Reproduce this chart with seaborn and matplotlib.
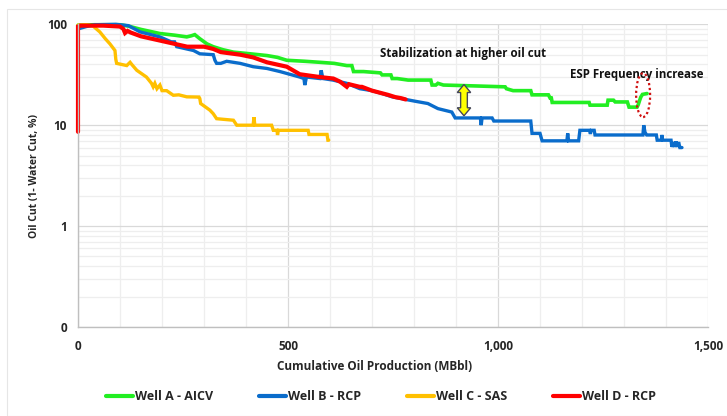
import matplotlib
matplotlib.use("Agg")
import matplotlib.pyplot as plt
import seaborn as sns
import numpy as np
from matplotlib.ticker import FixedLocator, NullFormatter
from matplotlib.patches import Polygon, Ellipse, Rectangle
from matplotlib.lines import Line2D

sns.set_style("white")
plt.rcParams['font.family'] = ['Open Sans', 'DejaVu Sans']

# ---------------- data ----------------
well_a_x = [0, 40, 100, 120, 150, 195, 230, 259, 270, 278, 290, 307, 322, 345, 370, 410, 450, 475, 497,
            540, 576, 610, 640, 652, 656, 680, 720, 724, 745, 748, 760, 786, 840, 843, 852, 857, 870, 945,
            1017, 1020, 1036, 1078, 1081, 1120, 1124, 1127, 1129, 1217, 1219, 1260, 1262, 1275, 1279, 1308,
            1312, 1331, 1334, 1337, 1340, 1344, 1355]
well_a_y = [98, 99, 99, 96, 89, 81, 78, 75, 77, 79, 72, 64, 60, 56, 53, 51, 49, 47, 44,
            43, 42, 41, 39, 39, 34, 34, 33, 31.5, 31.5, 29, 29, 28, 28, 25, 25, 26, 25, 24.5,
            24, 23, 22, 22, 20, 20, 18.6, 18.6, 16.8, 16.8, 15.8, 15.8, 17.7, 17.7, 17, 17,
            15.1, 15.1, 16, 17.5, 19, 20.2, 20.6]

well_b_x = [0, 20, 40, 90, 120, 148, 195, 222, 230, 235, 275, 290, 322, 326, 330, 340, 354, 370, 386, 417,
            450, 481, 528, 538, 540, 544, 576, 579, 583, 607, 640, 671, 700, 724, 748, 802, 833, 857, 890,
            898, 958, 960, 962, 986, 990, 1078, 1081, 1100, 1105, 1164, 1166, 1168, 1192, 1195, 1218, 1220,
            1222, 1229, 1231, 1345, 1347, 1350, 1354, 1377, 1379, 1389, 1390, 1392, 1412, 1414, 1418, 1421,
            1424, 1427, 1430, 1433, 1438]
well_b_y = [90, 95, 99, 100, 97, 84, 75, 67, 67, 60, 55, 51, 50, 44, 41, 41, 43, 42, 41, 38,
            36.5, 34, 30, 29, 25, 30, 29, 35, 29, 28, 26, 23, 22, 20.6, 19.1, 17.3, 16.4, 14.6, 13.5,
            11.8, 11.8, 10, 11.8, 11.8, 11, 11, 8.3, 8.3, 7, 7, 8.3, 7, 7, 8.9, 8.9, 8.2,
            8.9, 8.9, 8, 8, 10, 8.5, 8, 8, 7.1, 7.1, 8, 7.1, 7.1, 6.1, 6.8, 6.1,
            6.9, 6.1, 6.8, 6.0, 6.0]

well_c_x = [0, 20, 36, 52, 65, 76, 88, 90, 92, 116, 124, 128, 140, 163, 175, 179, 183, 188, 195, 200, 211,
            227, 240, 259, 288, 290, 292, 314, 322, 330, 370, 378, 417, 419, 421, 461, 465, 474, 475, 477,
            548, 550, 593, 595, 597]
well_c_y = [98, 99, 96, 84, 72, 64, 55, 45, 41, 39, 42, 40, 35, 30, 26, 24, 26, 23, 25, 22, 22,
            19.8, 20, 19.1, 19, 18.4, 16.4, 14.1, 13, 11.6, 11.2, 10, 10, 12, 10, 10, 8.9, 8.9, 8, 8.9,
            8.9, 8.1, 8.1, 7.1, 7.1]

well_d_x = [0, 0, 5, 60, 100, 108, 112, 118, 125, 150, 195, 230, 260, 300, 322, 340, 386, 417, 450, 497,
            528, 576, 608, 624, 640, 645, 671, 676, 700, 738, 755, 770, 780]
well_d_y = [8.6, 95, 97, 97, 95, 90, 82, 86, 83, 76, 69, 64, 60, 60, 57, 53, 50, 47, 42, 38,
            32, 30, 29, 27, 24, 25.5, 24, 24, 22, 20, 19, 18.5, 18]

series_labels = ["Well A - AICV", "Well B - RCP", "Well C - SAS", "Well D - RCP"]
series_colors = ["#22EE22", "#0A6CCB", "#FFC000", "#FF0000"]
series_widths = [2.6, 2.4, 2.4, 3.0]

y_ticks = [0.1, 1, 10, 100]
y_tick_labels = ["0", "1", "10", "100"]
x_ticks = [0, 500, 1000, 1500]
x_tick_labels = ["0", "500", "1,000", "1,500"]

# ---------------- figure ----------------
W, H = 727, 416
fig = plt.figure(figsize=(W / 100, H / 100), dpi=100)
fig.patches.append(Rectangle((7 / W, 0), 1, 1 - 9 / H, transform=fig.transFigure,
                             fill=False, edgecolor="#E6E6E6", linewidth=0.8))
ax = fig.add_axes([78 / W, 89 / H, 630 / W, 302.7 / H])

ax.set_yscale("log")
ax.set_xlim(0, 1500)
ax.set_ylim(0.1, 100)

# grid
ax.yaxis.set_major_locator(FixedLocator(y_ticks))
minor_y = [m * 10.0 ** e for e in (-1, 0, 1) for m in range(2, 10)]
ax.yaxis.set_minor_locator(FixedLocator(minor_y))
ax.yaxis.set_minor_formatter(NullFormatter())
ax.xaxis.set_major_locator(FixedLocator(x_ticks))
ax.xaxis.set_minor_locator(FixedLocator(list(range(100, 1500, 100))))
ax.grid(which="major", color="#D9D9D9", linewidth=0.9)
ax.grid(which="minor", color="#EEEEEE", linewidth=0.9)
ax.set_axisbelow(True)

xs = [well_a_x, well_b_x, well_c_x, well_d_x]
ys = [well_a_y, well_b_y, well_c_y, well_d_y]
for x, y, lab, col, lw in zip(xs, ys, series_labels, series_colors, series_widths):
    sns.lineplot(x=x, y=y, ax=ax, color=col, linewidth=lw, sort=False, estimator=None,
                 label=lab, legend=False, solid_joinstyle="miter", clip_on=False)
if ax.get_legend() is not None:
    ax.get_legend().remove()

ax.set_yticks(y_ticks)
ax.set_yticklabels(y_tick_labels)
ax.set_xticks(x_ticks)
ax.set_xticklabels(x_tick_labels)
ax.tick_params(which="both", length=0)
ax.tick_params(axis="y", pad=8, labelsize=8.5)
ax.tick_params(axis="x", pad=9, labelsize=8.5)
for t in ax.get_xticklabels() + ax.get_yticklabels():
    t.set_fontweight("bold")

for s in ["top", "right"]:
    ax.spines[s].set_visible(False)
for s in ["left", "bottom"]:
    ax.spines[s].set_color("#BFBFBF")
    ax.spines[s].set_linewidth(1.0)

ax.set_xlabel("")
ax.set_ylabel("")
fig.text(35 / W, 1 - 176 / H, "Oil Cut (1- Water Cut, %)", rotation=90, ha="center", va="center",
         fontsize=7.5, fontweight="bold")
fig.text(375 / W, 1 - 366 / H, "Cumulative Oil Production (MBbl)", ha="center", va="center",
         fontsize=8.5, fontweight="bold")

# annotations
ax.text(719, 51.7, "Stabilization at higher oil cut", ha="left", va="center", fontsize=8.3,
        fontweight="bold", color="#111111")
ax.text(1171, 31.9, "ESP Frequency increase", ha="left", va="center", fontsize=8.3,
        fontweight="bold", color="#111111")

xc, top, bot = 919, 25.3, 12.4
hw, sw = 16, 8
f = 10 ** (8 / 101)
arrow = Polygon([(xc, top), (xc + hw, top / f), (xc + sw, top / f), (xc + sw, bot * f),
                 (xc + hw, bot * f), (xc, bot), (xc - hw, bot * f), (xc - sw, bot * f),
                 (xc - sw, top / f), (xc - hw, top / f)], closed=True,
                facecolor="#FFFF00", edgecolor="#44465A", linewidth=1.0, zorder=5)
ax.add_patch(arrow)

ell = Ellipse((0.897, 0.766), 0.0222, 0.145, transform=ax.transAxes, fill=False,
              edgecolor="#D01010", linestyle=(0, (1, 1.2)), linewidth=1.6, zorder=6)
ax.add_patch(ell)

# legend
handles = [Line2D([0], [0], color=c, linewidth=3) for c in series_colors]
leg = fig.legend(handles, series_labels, loc="center", bbox_to_anchor=(381 / W, 1 - 397 / H),
                 ncol=4, frameon=False, handlelength=2.15, handletextpad=0.15, columnspacing=3.7,
                 prop={"size": 9, "weight": "bold"})

fig.savefig("out.png", dpi=100)
